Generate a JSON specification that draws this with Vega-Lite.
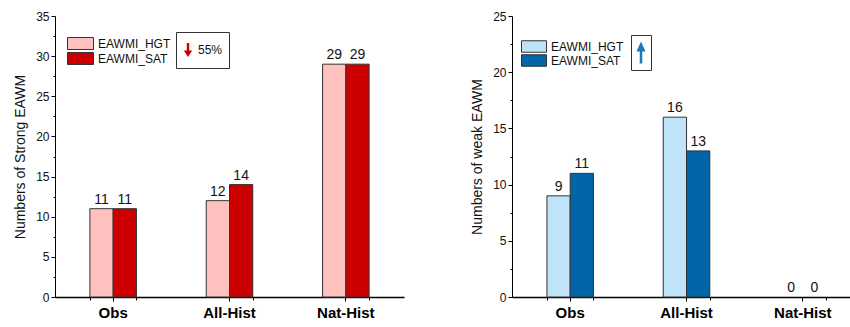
{
  "$schema": "https://vega.github.io/schema/vega-lite/v6.json",
  "padding": {"left": 13, "top": 10, "right": 0, "bottom": 0},
  "spacing": 66,
  "config": {
    "font": "Liberation Sans",
    "view": {"stroke": null},
    "axis": {"labelColor": "#111", "titleColor": "#111", "domainColor": "#000", "tickColor": "#000", "grid": false, "titleFontWeight": "normal"},
    "legend": {"labelColor": "#111"}
  },
  "resolve": {"scale": {"color": "independent", "shape": "independent", "y": "independent", "x": "independent"}, "legend": {"color": "independent", "shape": "independent"}},
  "datasets": {
    "strong": [
      {"cat": "Obs", "series": "EAWMI_HGT", "value": 11},
      {"cat": "Obs", "series": "EAWMI_SAT", "value": 11},
      {"cat": "All-Hist", "series": "EAWMI_HGT", "value": 12},
      {"cat": "All-Hist", "series": "EAWMI_SAT", "value": 14},
      {"cat": "Nat-Hist", "series": "EAWMI_HGT", "value": 29},
      {"cat": "Nat-Hist", "series": "EAWMI_SAT", "value": 29}
    ],
    "weak": [
      {"cat": "Obs", "series": "EAWMI_HGT", "value": 9},
      {"cat": "Obs", "series": "EAWMI_SAT", "value": 11},
      {"cat": "All-Hist", "series": "EAWMI_HGT", "value": 16},
      {"cat": "All-Hist", "series": "EAWMI_SAT", "value": 13},
      {"cat": "Nat-Hist", "series": "EAWMI_HGT", "value": 0},
      {"cat": "Nat-Hist", "series": "EAWMI_SAT", "value": 0}
    ],
    "noteStrong": [{"cat": "Obs", "value": 0, "note": "55%"}],
    "noteWeak": [{"cat": "Obs", "value": 0, "note2": "up"}]
  },
  "hconcat": [
    {
      "width": 349,
      "height": 281,
      "resolve": {"axis": {"x": "independent"}},
      "encoding": {
        "y": {"field": "value", "type": "quantitative",
          "scale": {"domain": [0, 35], "nice": false},
          "axis": {"title": "Numbers of Strong EAWM", "titleFontSize": 14, "titlePadding": 8,
            "values": [0, 2.5, 5, 7.5, 10, 12.5, 15, 17.5, 20, 22.5, 25, 27.5, 30, 32.5, 35],
            "labelExpr": "datum.value % 5 === 0 ? datum.label : ''",
            "tickSize": {"condition": {"test": "datum.value % 5 === 0", "value": 4}, "value": 2},
            "labelFontSize": 12, "labelPadding": 2}}
      },
      "layer": [
        {
          "data": {"name": "strong"},
          "transform": [{"filter": "datum.value > 0"}],
          "mark": {"type": "bar", "stroke": "#333", "strokeWidth": 1},
          "encoding": {
            "x": {"field": "cat", "type": "nominal", "sort": ["Obs", "All-Hist", "Nat-Hist"],
              "scale": {"paddingInner": 0.6, "paddingOuter": 0.3},
              "axis": {"orient": "bottom", "title": null, "labelAngle": 0, "labelFontWeight": "bold", "labelFontSize": 15, "tickSize": 4, "labelPadding": 4, "domainWidth": 1.5, "labelColor": "#000"}},
            "xOffset": {"field": "series", "type": "nominal", "scale": {"paddingInner": 0, "paddingOuter": 0}},
            "color": {"field": "series", "type": "nominal",
              "scale": {"domain": ["EAWMI_HGT", "EAWMI_SAT"], "range": ["#FFC0C0", "#CC0000"]},
              "legend": {"orient": "none", "legendX": 12, "legendY": 21, "title": null, "padding": 0,
                "symbolType": "M-1,-0.46L1,-0.46L1,0.46L-1,0.46Z", "symbolSize": 676,
                "symbolStrokeColor": "#333", "symbolStrokeWidth": 1, "labelFontSize": 12, "labelOffset": 4,
                "clipHeight": 13, "rowPadding": 2}}
          }
        },
        {
          "data": {"name": "strong"},
          "mark": {"type": "text", "baseline": "bottom", "dy": -2, "fontSize": 14, "color": "#111"},
          "encoding": {
            "x": {"field": "cat", "type": "nominal", "sort": ["Obs", "All-Hist", "Nat-Hist"],
              "axis": {"orient": "bottom", "title": null, "labels": false, "domain": false, "tickBand": "extent", "tickSize": 3}},
            "xOffset": {"field": "series", "type": "nominal", "scale": {"paddingInner": 0, "paddingOuter": 0}},
            "text": {"field": "value", "type": "quantitative"}
          }
        },
        {
          "data": {"name": "noteStrong"},
          "mark": {"type": "point", "opacity": 0, "filled": true, "color": "#CC0000"},
          "encoding": {
            "x": {"field": "cat", "type": "nominal", "sort": ["Obs", "All-Hist", "Nat-Hist"], "axis": null},
            "shape": {"field": "note", "type": "nominal",
              "scale": {"domain": ["55%"], "range": ["M-0.4,-2.33L0.4,-2.33L0.4,0.2L1.4,0.2L0,2.33L-1.4,0.2L-0.4,0.2Z"]},
              "legend": {"orient": "none", "legendX": 121, "legendY": 16, "title": null, "padding": 6,
                "strokeColor": "#333", "fillColor": "#fff", "symbolSize": 36, "symbolOpacity": 1,
                "symbolFillColor": "#CC0000", "symbolStrokeColor": "#CC0000", "symbolStrokeWidth": 0,
                "labelFontSize": 12, "labelOffset": 4, "clipHeight": 24}}
          }
        }
      ]
    },
    {
      "width": 338,
      "height": 281,
      "resolve": {"axis": {"x": "independent"}},
      "encoding": {
        "y": {"field": "value", "type": "quantitative",
          "scale": {"domain": [0, 25], "nice": false},
          "axis": {"title": "Numbers of weak EAWM", "titleFontSize": 14, "titlePadding": 8,
            "values": [0, 2.5, 5, 7.5, 10, 12.5, 15, 17.5, 20, 22.5, 25],
            "labelExpr": "datum.value % 5 === 0 ? datum.label : ''",
            "tickSize": {"condition": {"test": "datum.value % 5 === 0", "value": 4}, "value": 2},
            "labelFontSize": 12, "labelPadding": 2}}
      },
      "layer": [
        {
          "data": {"name": "weak"},
          "transform": [{"filter": "datum.value > 0"}],
          "mark": {"type": "bar", "stroke": "#333", "strokeWidth": 1},
          "encoding": {
            "x": {"field": "cat", "type": "nominal", "sort": ["Obs", "All-Hist", "Nat-Hist"],
              "scale": {"paddingInner": 0.6, "paddingOuter": 0.2527, "align": 0.594},
              "axis": {"orient": "bottom", "title": null, "labelAngle": 0, "labelFontWeight": "bold", "labelFontSize": 15, "tickSize": 4, "labelPadding": 4, "domainWidth": 1.5, "labelColor": "#000"}},
            "xOffset": {"field": "series", "type": "nominal", "scale": {"paddingInner": 0, "paddingOuter": 0}},
            "color": {"field": "series", "type": "nominal",
              "scale": {"domain": ["EAWMI_HGT", "EAWMI_SAT"], "range": ["#BFE4FA", "#0066A8"]},
              "legend": {"orient": "none", "legendX": 9, "legendY": 24, "title": null, "padding": 0,
                "symbolType": "M-1,-0.46L1,-0.46L1,0.46L-1,0.46Z", "symbolSize": 625,
                "symbolStrokeColor": "#333", "symbolStrokeWidth": 1, "labelFontSize": 12, "labelOffset": 4,
                "clipHeight": 13, "rowPadding": 1}}
          }
        },
        {
          "data": {"name": "weak"},
          "mark": {"type": "text", "baseline": "bottom", "dy": -2, "fontSize": 14, "color": "#111"},
          "encoding": {
            "x": {"field": "cat", "type": "nominal", "sort": ["Obs", "All-Hist", "Nat-Hist"],
              "axis": {"orient": "bottom", "title": null, "labels": false, "domain": false, "tickBand": "extent", "tickSize": 3}},
            "xOffset": {"field": "series", "type": "nominal", "scale": {"paddingInner": 0, "paddingOuter": 0}},
            "text": {"field": "value", "type": "quantitative"}
          }
        },
        {
          "data": {"name": "noteWeak"},
          "mark": {"type": "point", "opacity": 0, "filled": true, "color": "#1F78B8"},
          "encoding": {
            "x": {"field": "cat", "type": "nominal", "sort": ["Obs", "All-Hist", "Nat-Hist"], "axis": null},
            "shape": {"field": "note2", "type": "nominal",
              "scale": {"domain": ["up"], "range": ["M0,-3.14L1.29,-0.28L0.36,-0.28L0.36,3.14L-0.36,3.14L-0.36,-0.28L-1.29,-0.28Z"]},
              "legend": {"orient": "none", "legendX": 119, "legendY": 19, "title": null, "padding": 5,
                "strokeColor": "#333", "fillColor": "#fff", "symbolSize": 49, "symbolOpacity": 1,
                "symbolFillColor": "#1F78B8", "symbolStrokeColor": "#1F78B8", "symbolStrokeWidth": 0,
                "labelExpr": "''", "labelOffset": 0, "clipHeight": 25}}
          }
        }
      ]
    }
  ]
}
